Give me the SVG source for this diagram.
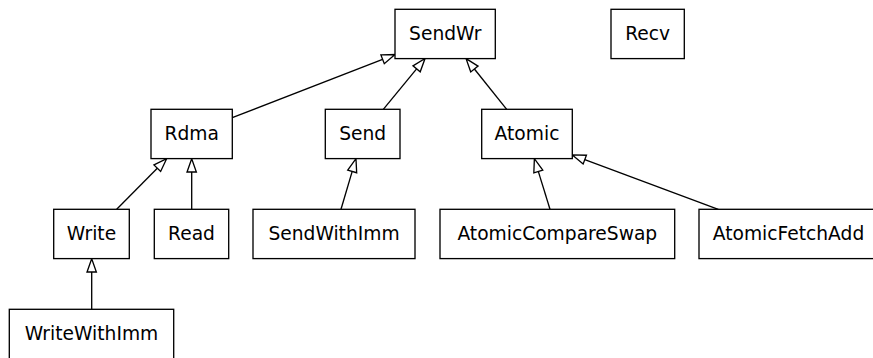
<svg xmlns="http://www.w3.org/2000/svg" width="873" height="358" viewBox="0 0 873 358">
<style>
.node rect{fill:#fff;stroke:#000;stroke-width:1.33}
.node text{font-family:"DejaVu Sans",sans-serif;font-size:18.67px;fill:#000;text-anchor:middle}
.edges path{fill:none;stroke:#000;stroke-width:1.33}
</style>
<defs>
<marker id="inh" markerUnits="userSpaceOnUse" orient="auto" refX="0" refY="0" markerWidth="16" markerHeight="12" viewBox="-1 -6 16 12" overflow="visible">
<polygon points="0,-4.67 13.3,0 0,4.67" fill="#fff" stroke="#000" stroke-width="1.33"/>
</marker>
</defs>
<rect width="873" height="358" fill="#fff"/>
<g class="edges">
<path d="M232.3,117.7 L382.6,59.3" marker-end="url(#inh)"/>
<path d="M383.3,109.3 L416.6,68.8" marker-end="url(#inh)"/>
<path d="M506.7,109.3 L474.4,69" marker-end="url(#inh)"/>
<path d="M550,209.3 L538.3,171.4" marker-end="url(#inh)"/>
<path d="M718.3,209.3 L584.8,159.6" marker-end="url(#inh)"/>
<path d="M116.7,209.3 L157.3,168.2" marker-end="url(#inh)"/>
<path d="M191.7,209.3 L191.7,172" marker-end="url(#inh)"/>
<path d="M341,209.3 L352.2,171.4" marker-end="url(#inh)"/>
<path d="M91.7,309.3 L91.7,272" marker-end="url(#inh)"/>
</g>
<g id="SendWr" class="node"><rect x="395" y="9.3" width="100.3" height="49.3"/><text x="445.2" y="39.5">SendWr</text></g>
<g id="Recv" class="node"><rect x="611" y="9.3" width="73.3" height="49.3"/><text x="647.7" y="39.5">Recv</text></g>
<g id="Rdma" class="node"><rect x="151" y="109.3" width="81.3" height="49.3"/><text x="191.7" y="139.5">Rdma</text></g>
<g id="Send" class="node"><rect x="325.3" y="109.3" width="74.7" height="49.3"/><text x="362.7" y="139.5">Send</text></g>
<g id="Atomic" class="node"><rect x="481.7" y="109.3" width="90.6" height="49.3"/><text x="527" y="139.5">Atomic</text></g>
<g id="Write" class="node"><rect x="53.7" y="209.3" width="75.6" height="49.3"/><text x="91.5" y="239.5">Write</text></g>
<g id="Read" class="node"><rect x="154.3" y="209.3" width="74.4" height="49.3"/><text x="191.5" y="239.5">Read</text></g>
<g id="SendWithImm" class="node"><rect x="253" y="209.3" width="162" height="49.3"/><text x="334" y="239.5">SendWithImm</text></g>
<g id="AtomicCompareSwap" class="node"><rect x="440" y="209.3" width="234.7" height="49.3"/><text x="557.3" y="239.5">AtomicCompareSwap</text></g>
<g id="AtomicFetchAdd" class="node"><rect x="699" y="209.3" width="182" height="49.3"/><text x="788.5" y="239.5">AtomicFetchAdd</text></g>
<g id="WriteWithImm" class="node"><rect x="9.3" y="309.3" width="164.4" height="60"/><text x="91.5" y="339.5">WriteWithImm</text></g>
</svg>
